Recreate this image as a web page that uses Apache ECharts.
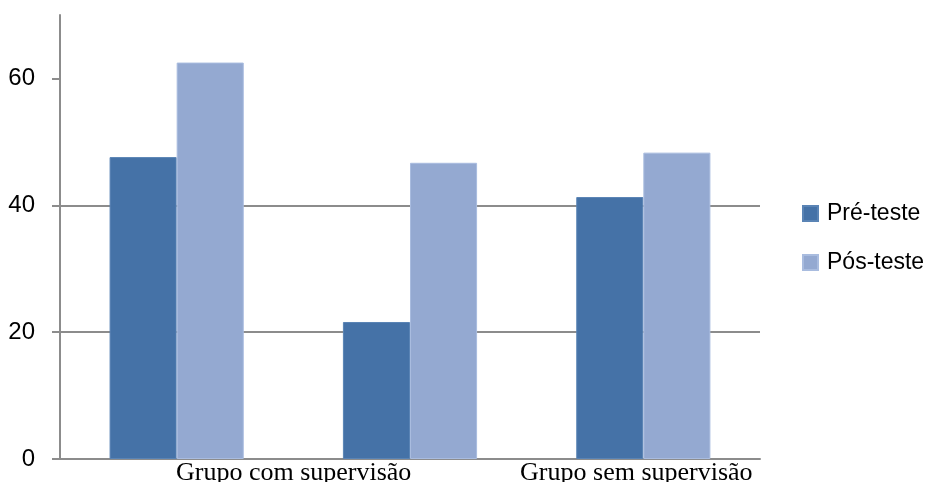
<!DOCTYPE html>
<html>
<head>
<meta charset="utf-8">
<script src="https://cdn.jsdelivr.net/npm/echarts@6/dist/echarts.min.js"></script>
<style>
  html, body { margin: 0; padding: 0; background: #fff; }
  #chart { width: 927px; height: 482px; }
</style>
</head>
<body>
<div id="chart"></div>
<script>
// Categories (the middle group has no caption)
const categories = ['Grupo com supervisão', '', 'Grupo sem supervisão'];
// Mean scores per group
const preTeste = [47.6, 21.6, 41.3];
const posTeste = [62.5, 46.7, 48.3];
// Value-axis ticks
const yTicks = [0, 20, 40, 60];
const seriesNames = ['Pré-teste', 'Pós-teste'];

const gridColor = '#8c8c8c';

const chart = echarts.init(document.getElementById('chart'), null, { renderer: 'canvas' });

chart.setOption({
  animation: false,
  backgroundColor: '#ffffff',
  grid: {
    left: 60, right: 167, top: 15, bottom: 23,
    containLabel: false,
    outerBoundsMode: 'none'
  },
  legend: {
    orient: 'vertical',
    left: 802,
    top: 202,
    padding: 0,
    itemWidth: 15,
    itemHeight: 15,
    itemGap: 26,
    icon: 'rect',
    data: seriesNames,
    textStyle: {
      fontFamily: 'Liberation Sans',
      fontSize: 23,
      color: '#000',
      padding: [0, 0, 0, 4]
    }
  },
  xAxis: {
    type: 'category',
    data: categories,
    axisLine: { show: true, lineStyle: { color: gridColor, width: 2 } },
    axisTick: { show: false },
    axisLabel: {
      interval: 0,
      margin: 1,
      formatter: function (v, i) {
        if (!v) return '';
        return i === 0 ? '{a|' + v + '}' : '{b|' + v + '}';
      },
      rich: {
        a: { fontFamily: 'Liberation Serif', fontSize: 26, color: '#000', padding: [0, 0, 0, 234] },
        b: { fontFamily: 'Liberation Serif', fontSize: 26, color: '#000', padding: [0, 14, 0, 0] }
      }
    }
  },
  yAxis: {
    type: 'value',
    min: 0,
    max: 70,
    interval: 20,
    axisLine: { show: true, lineStyle: { color: gridColor, width: 2 } },
    axisTick: {
      show: true,
      length: 8,
      customValues: yTicks,
      lineStyle: { color: gridColor, width: 2 }
    },
    axisLabel: {
      customValues: yTicks,
      margin: 25,
      fontFamily: 'Liberation Sans',
      fontSize: 24,
      color: '#000'
    },
    splitLine: {
      show: true,
      showMaxLine: false,
      lineStyle: { color: gridColor, width: 2 }
    }
  },
  series: [
    {
      name: seriesNames[0],
      type: 'bar',
      data: preTeste,
      barGap: '0%',
      barCategoryGap: '42.5%',
      itemStyle: { color: '#4572A7', borderColor: '#5a84b5', borderWidth: 1 }
    },
    {
      name: seriesNames[1],
      type: 'bar',
      data: posTeste,
      barGap: '0%',
      barCategoryGap: '42.5%',
      itemStyle: { color: '#94A9D1', borderColor: '#a9bcdf', borderWidth: 1 }
    }
  ]
});
</script>
</body>
</html>
